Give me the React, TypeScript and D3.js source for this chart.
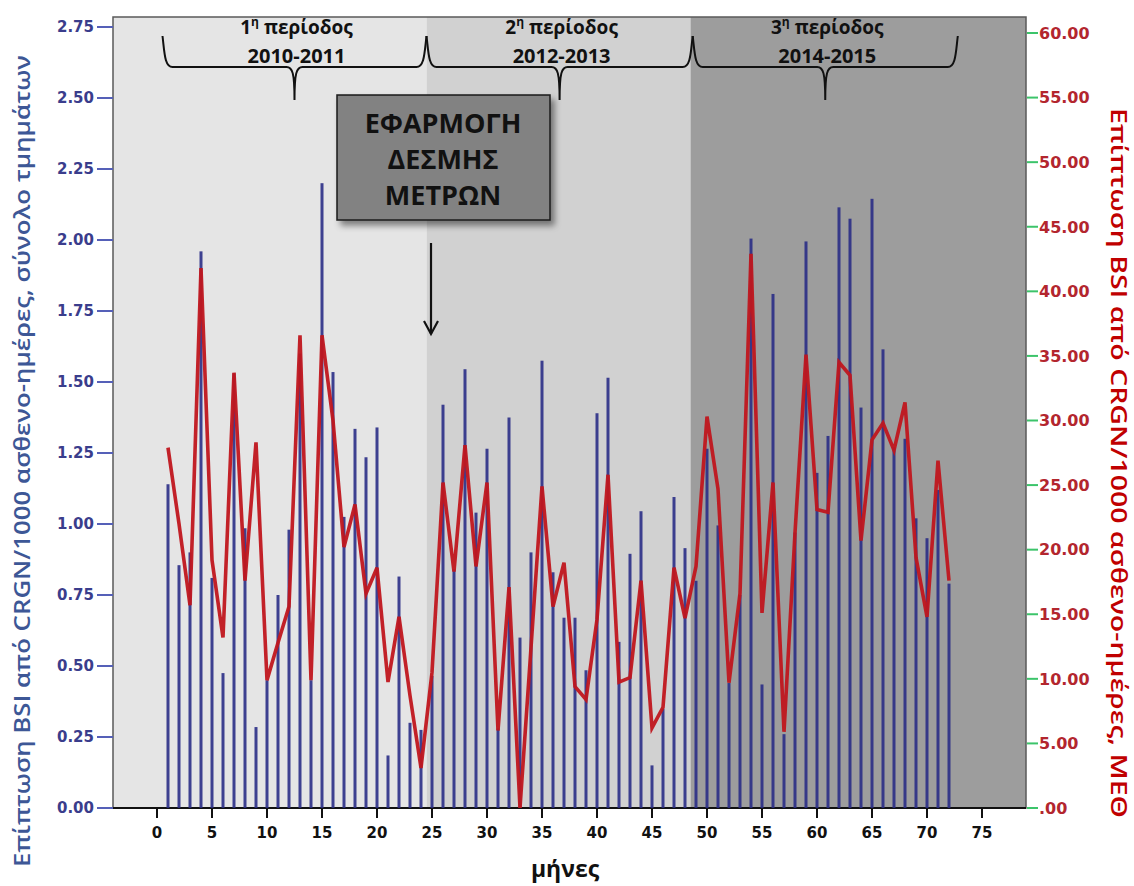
import { useEffect, useRef } from 'react';
import * as d3 from 'd3';

// month index (1..72)
const months = d3.range(1, 73);

// BSI from CRGN /1000 patient-days, all departments (left axis)
const bsiTotal = [
  1.14, 0.855, 0.9, 1.96, 0.81, 0.475, 1.53, 0.985, 0.285, 0.45, 0.75, 0.98,
  1.6, 0.45, 2.2, 1.535, 1.025, 1.335, 1.235, 1.34, 0.185, 0.815, 0.3, 0.275,
  0.465, 1.42, 0.84, 1.545, 1.04, 1.265, 0.28, 1.375, 0.6, 0.9, 1.575, 0.83,
  0.67, 0.67, 0.485, 1.39, 1.515, 0.585, 0.895, 1.045, 0.15, 0.35, 1.095, 0.915,
  0.8, 1.265, 0.995, 0.44, 0.75, 2.005, 0.435, 1.81, 0.26, 0.97, 1.995, 1.18,
  1.31, 2.115, 2.075, 1.41, 2.145, 1.615, 1.27, 1.3, 1.02, 0.95, 1.12, 0.79,
];

// BSI from CRGN /1000 patient-days, ICU (right axis)
const bsiIcu = [
  27.9, 22.0, 15.7, 41.8, 19.2, 13.2, 33.7, 17.6, 28.3, 9.9, 12.8, 15.6,
  36.6, 9.9, 36.6, 30.0, 20.2, 23.5, 16.6, 18.6, 9.75, 14.8, 8.7, 3.1,
  10.5, 25.2, 18.3, 28.1, 18.7, 25.2, 6.0, 17.1, 0, 12.4, 24.9, 15.6,
  19.0, 9.4, 8.4, 14.6, 25.8, 9.75, 10.1, 17.6, 6.2, 7.8, 18.6, 14.7,
  18.7, 30.3, 24.7, 9.7, 16.6, 42.9, 15.1, 25.2, 5.9, 21.3, 35.1, 23.1,
  22.9, 34.5, 33.5, 20.7, 28.5, 29.8, 27.7, 31.4, 19.4, 14.8, 26.9, 17.6,
];

const xTicks = d3.range(0, 80, 5);
const leftTicks = d3.range(0, 2.76, 0.25);
const rightTicks = d3.range(0, 61, 5);

// periods: [start, end] in months, label lines
const periodRanges: [number, number][] = [[0.5, 24.5], [24.5, 48.7], [48.7, 72.8]];
const periodBounds = [24.5, 48.5];
const periodNums = ['1', '2', '3'];
const periodYears = ['2010-2011', '2012-2013', '2014-2015'];
const periodFills = ['#e5e5e5', '#d1d1d1', '#9d9d9d'];

const boxLines = ['ΕΦΑΡΜΟΓΗ', 'ΔΕΣΜΗΣ', 'ΜΕΤΡΩΝ'];

const W = 1134;
const H = 886;

export default function App() {
  const svgRef = useRef<SVGSVGElement>(null);

  useEffect(() => {
    if (!svgRef.current) return;
    const svg = d3.select(svgRef.current);
    svg.selectAll('*').remove();

    const plot = { left: 113, right: 1026, top: 17, bottom: 808 };

    const x = d3.scaleLinear().domain([-4, 79]).range([plot.left, plot.right]);
    const yL = d3.scaleLinear().domain([0, 2.75]).range([plot.bottom, 27]);
    const yR = d3.scaleLinear().domain([0, 60]).range([plot.bottom, 33]);

    const defs = svg.append('defs');
    const f = defs.append('filter').attr('id', 'shadow')
      .attr('x', '-10%').attr('y', '-10%').attr('width', '130%').attr('height', '140%');
    f.append('feDropShadow')
      .attr('dx', 4).attr('dy', 5).attr('stdDeviation', 3)
      .attr('flood-color', '#000').attr('flood-opacity', 0.45);

    svg.append('rect').attr('width', W).attr('height', H).attr('fill', '#fff');

    // period backgrounds
    const edges = [plot.left, x(periodBounds[0]), x(periodBounds[1]), plot.right];
    periodFills.forEach((c, i) => {
      svg.append('rect')
        .attr('x', edges[i])
        .attr('y', plot.top)
        .attr('width', edges[i + 1] - edges[i])
        .attr('height', plot.bottom - plot.top)
        .attr('fill', c);
    });

    // frame
    svg.append('rect')
      .attr('x', plot.left).attr('y', plot.top)
      .attr('width', plot.right - plot.left).attr('height', plot.bottom - plot.top)
      .attr('fill', 'none').attr('stroke', '#5a5a5a').attr('stroke-width', 1.5);
    svg.append('line')
      .attr('x1', plot.left).attr('x2', plot.right)
      .attr('y1', plot.bottom).attr('y2', plot.bottom)
      .attr('stroke', '#111').attr('stroke-width', 2);

    // bars
    svg.append('g').selectAll('rect')
      .data(months)
      .join('rect')
      .attr('x', d => x(d) - 1.5)
      .attr('width', 3)
      .attr('y', (d, i) => yL(bsiTotal[i]))
      .attr('height', (d, i) => yL(0) - yL(bsiTotal[i]))
      .attr('fill', '#2a2d86')
      .attr('opacity', 0.9);

    // ICU line
    const line = d3.line<number>()
      .x(d => x(d))
      .y((d, i) => yR(bsiIcu[i]));
    svg.append('path')
      .datum(months)
      .attr('d', line)
      .attr('fill', 'none')
      .attr('stroke', '#c0161e')
      .attr('stroke-width', 3.6)
      .attr('stroke-linejoin', 'miter')
      .attr('stroke-opacity', 0.95);

    // left axis
    const gl = svg.append('g');
    leftTicks.forEach(t => {
      gl.append('line')
        .attr('x1', 97).attr('x2', plot.left)
        .attr('y1', yL(t)).attr('y2', yL(t))
        .attr('stroke', '#5560b8').attr('stroke-width', 2);
      gl.append('text')
        .attr('x', 94).attr('y', yL(t))
        .attr('dy', '0.36em')
        .attr('text-anchor', 'end')
        .attr('font-family', 'DejaVu Sans')
        .attr('font-weight', 700)
        .attr('font-size', 15)
        .attr('fill', '#3a3d8c')
        .text(t.toFixed(2));
    });

    // right axis
    const gr = svg.append('g');
    rightTicks.forEach(t => {
      gr.append('line')
        .attr('x1', plot.right + 1).attr('x2', plot.right + 12)
        .attr('y1', yR(t)).attr('y2', yR(t))
        .attr('stroke', '#3cc46a').attr('stroke-width', 2);
      gr.append('text')
        .attr('x', plot.right + 13).attr('y', yR(t))
        .attr('dy', '0.36em')
        .attr('font-family', 'DejaVu Sans')
        .attr('font-weight', 700)
        .attr('font-size', 16)
        .attr('fill', '#b3262e')
        .text(t === 0 ? '.00' : t.toFixed(2));
    });

    // x axis
    const gx = svg.append('g');
    xTicks.forEach(t => {
      gx.append('line')
        .attr('x1', x(t)).attr('x2', x(t))
        .attr('y1', plot.bottom).attr('y2', plot.bottom + 10)
        .attr('stroke', '#111').attr('stroke-width', 2);
      gx.append('text')
        .attr('x', x(t)).attr('y', 838)
        .attr('text-anchor', 'middle')
        .attr('font-family', 'DejaVu Sans')
        .attr('font-weight', 700)
        .attr('font-size', 15)
        .attr('fill', '#111')
        .text(t);
    });

    svg.append('text')
      .attr('x', 565).attr('y', 877)
      .attr('text-anchor', 'middle')
      .attr('font-family', 'Open Sans')
      .attr('font-weight', 700)
      .attr('font-size', 23)
      .attr('fill', '#111')
      .text('μήνες');

    // axis titles
    svg.append('text')
      .attr('transform', 'translate(22,461) rotate(-90)')
      .attr('text-anchor', 'middle')
      .attr('dominant-baseline', 'central')
      .attr('font-family', 'Open Sans')
      .attr('font-weight', 600)
      .attr('font-size', 21)
      .attr('fill', '#3d5796')
      .attr('textLength', 812)
      .attr('lengthAdjust', 'spacingAndGlyphs')
      .text('Επίπτωση BSI από CRGN/1000 ασθενο-ημέρες, σύνολο τμημάτων');

    svg.append('text')
      .attr('transform', 'translate(1119,463) rotate(90)')
      .attr('text-anchor', 'middle')
      .attr('dominant-baseline', 'central')
      .attr('font-family', 'Open Sans')
      .attr('font-weight', 600)
      .attr('font-size', 21)
      .attr('fill', '#c00000')
      .attr('textLength', 710)
      .attr('lengthAdjust', 'spacingAndGlyphs')
      .text('Επίπτωση BSI από CRGN/1000 ασθενο-ημέρες, ΜΕΘ');

    // period braces and labels
    const braceY = 67;
    const bracePath = (x0: number, x1: number) => {
      const xm = (x0 + x1) / 2;
      return `M${x0},36 C${x0 + 2},52 ${x0 + 2},${braceY} ${x0 + 10},${braceY}`
        + ` L${xm - 8},${braceY} C${xm - 2},${braceY} ${xm},${braceY + 6} ${xm},100`
        + ` C${xm},${braceY + 6} ${xm + 2},${braceY} ${xm + 8},${braceY}`
        + ` L${x1 - 10},${braceY} C${x1 - 2},${braceY} ${x1 - 2},52 ${x1},36`;
    };
    periodRanges.forEach(([a, b], i) => {
      const x0 = x(a);
      const x1 = x(b);
      const xm = (x0 + x1) / 2;
      svg.append('path')
        .attr('d', bracePath(x0, x1))
        .attr('fill', 'none')
        .attr('stroke', '#111')
        .attr('stroke-width', 2);
      const t = svg.append('text')
        .attr('x', xm + 2).attr('y', 34)
        .attr('text-anchor', 'middle')
        .attr('font-family', 'Open Sans')
        .attr('font-weight', 700)
        .attr('font-size', 19)
        .attr('fill', '#111');
      t.append('tspan').text(periodNums[i]);
      t.append('tspan').attr('font-size', 12).attr('dy', -8).text('η');
      t.append('tspan').attr('dy', 8).text(' περίοδος');
      svg.append('text')
        .attr('x', xm + 2).attr('y', 63)
        .attr('text-anchor', 'middle')
        .attr('font-family', 'Open Sans')
        .attr('font-weight', 700)
        .attr('font-size', 20)
        .attr('fill', '#111')
        .text(periodYears[i]);
    });

    // intervention box
    svg.append('rect')
      .attr('x', 337).attr('y', 95)
      .attr('width', 213).attr('height', 125)
      .attr('fill', '#828282')
      .attr('stroke', '#1a1a1a')
      .attr('stroke-width', 1.5)
      .attr('filter', 'url(#shadow)');
    boxLines.forEach((s, i) => {
      svg.append('text')
        .attr('x', 443).attr('y', 133 + i * 36)
        .attr('text-anchor', 'middle')
        .attr('font-family', 'Open Sans')
        .attr('font-weight', 700)
        .attr('font-size', 27)
        .attr('fill', '#111')
        .text(s);
    });

    // arrow
    svg.append('line')
      .attr('x1', 431).attr('x2', 431)
      .attr('y1', 243).attr('y2', 334)
      .attr('stroke', '#111').attr('stroke-width', 2.2);
    svg.append('path')
      .attr('d', 'M424,321 L431,334 L438,321')
      .attr('fill', 'none')
      .attr('stroke', '#111')
      .attr('stroke-width', 2.2);
  }, []);

  return (
    <svg
      ref={svgRef}
      width={W}
      height={H}
      style={{ position: 'absolute', left: 0, top: 0 }}
    />
  );
}
